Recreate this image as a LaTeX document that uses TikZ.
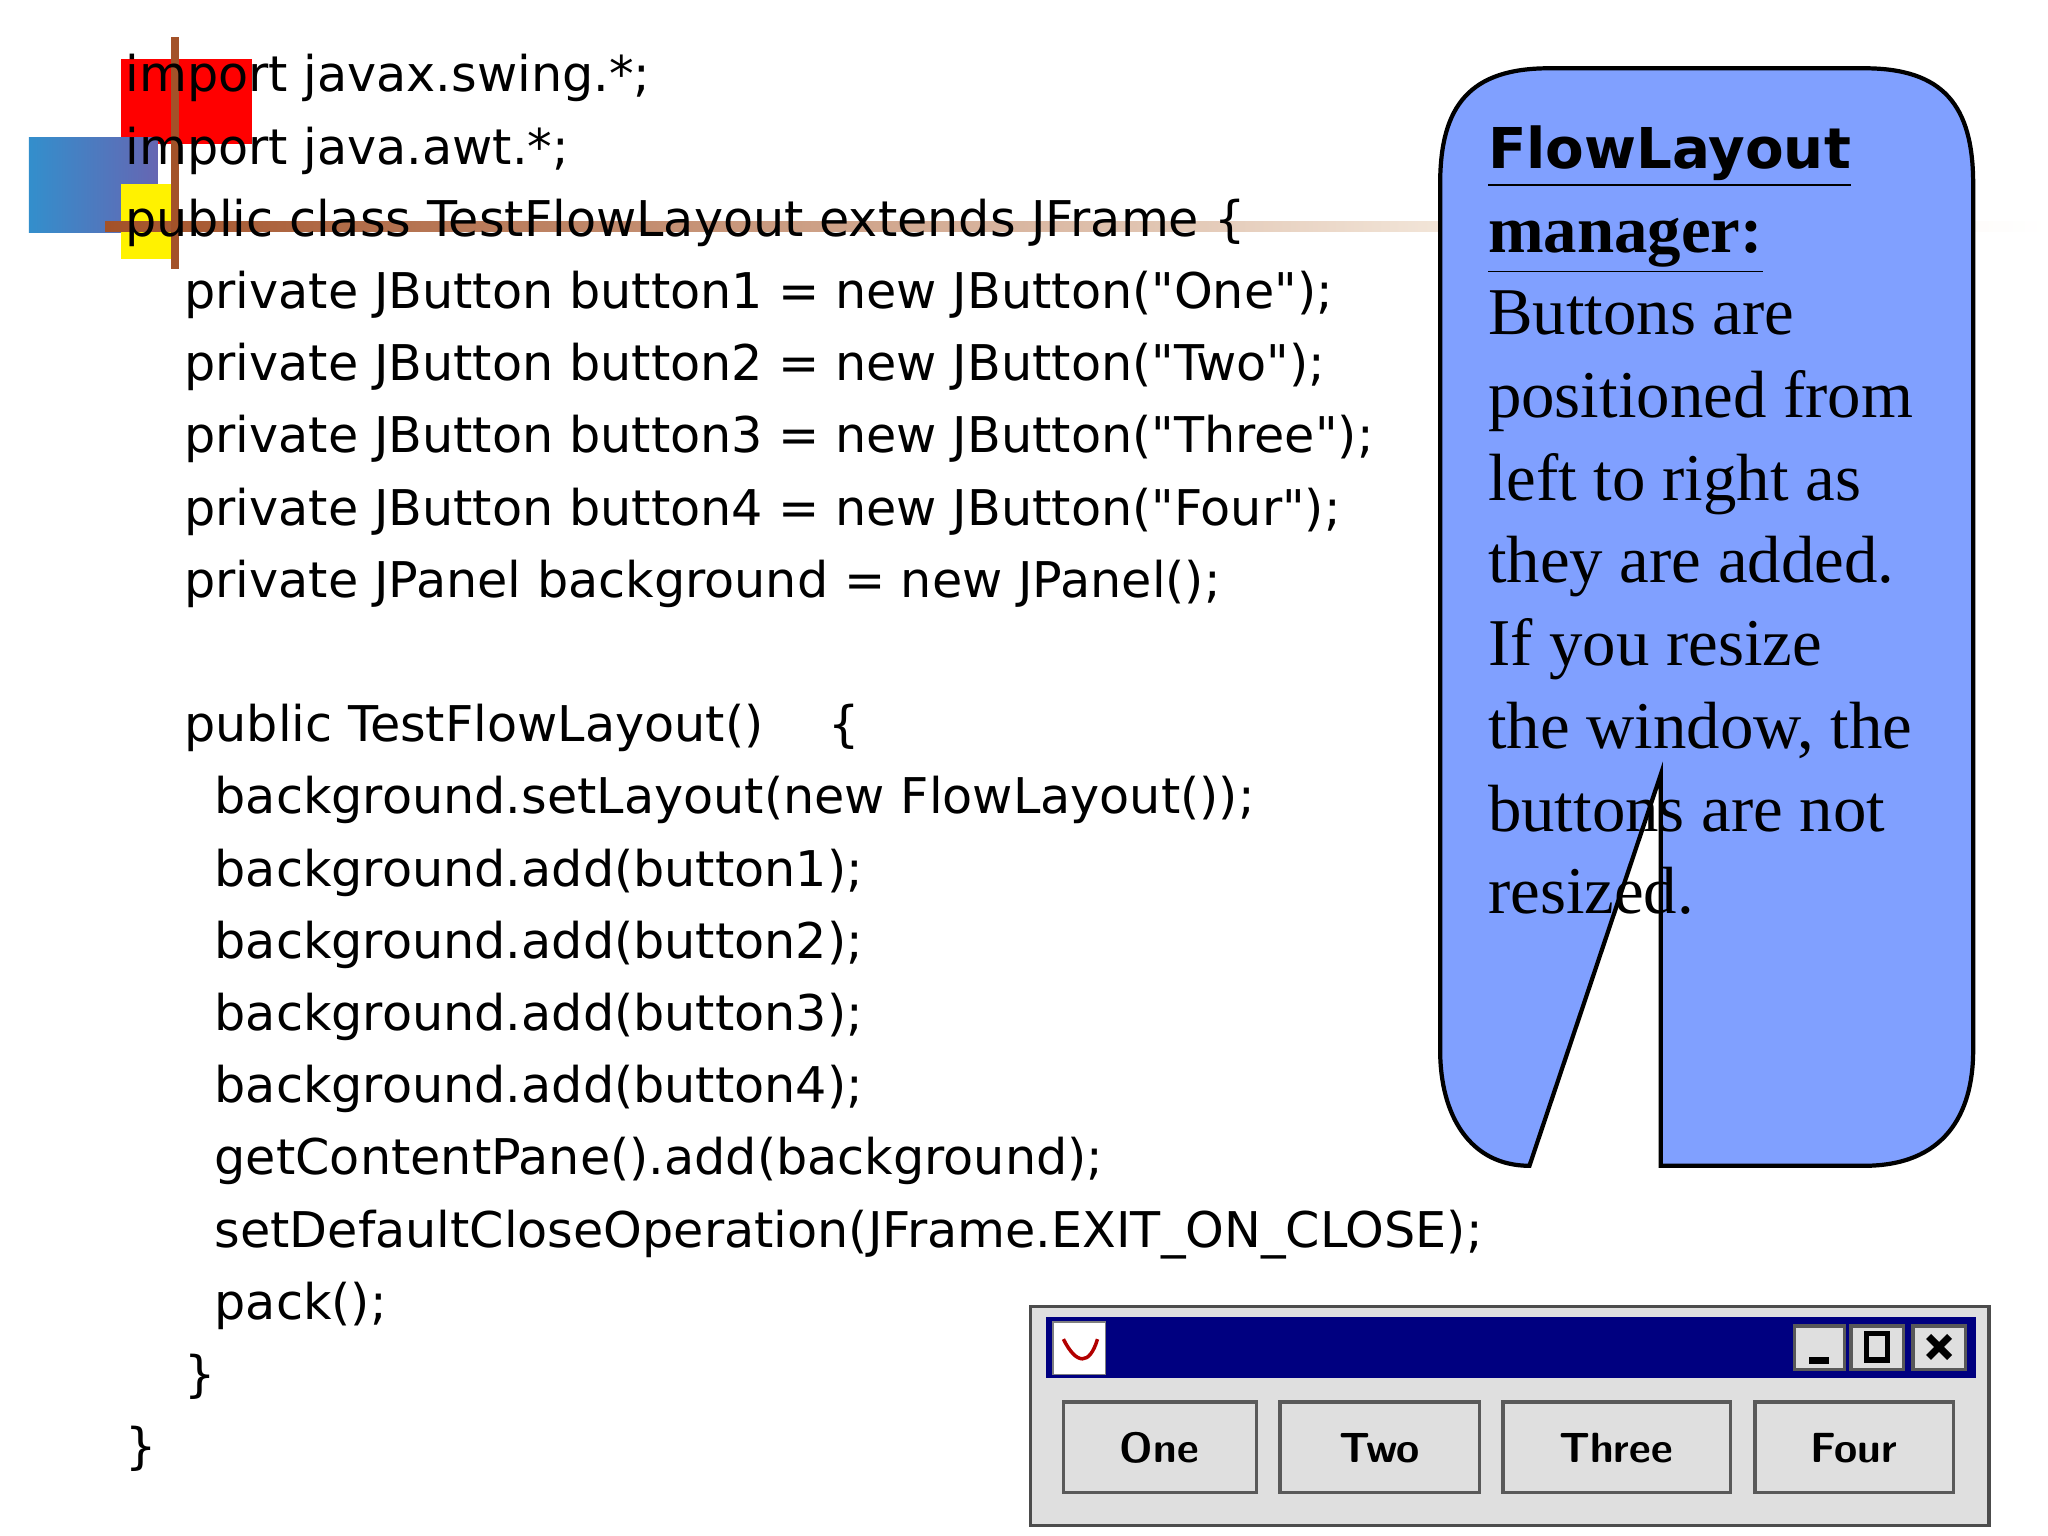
\documentclass[tikz,border=0pt]{standalone}
\usepackage{fontspec}
\setmainfont{Liberation Serif}
\newfontfamily\codefont{DejaVu Sans}
\newfontfamily\headfont{DejaVu Sans}
\definecolor{callblue}{HTML}{80A0FF}
\begin{document}
\begin{tikzpicture}[x=0.013128cm,y=-0.013128cm,
  code/.style={anchor=base west,inner sep=0pt,font=\codefont\fontsize{14}{17}\selectfont},
  call/.style={anchor=base west,inner sep=0pt,font=\fontsize{19}{23}\selectfont},
  btn/.style={draw=gray!70!black,fill=gray!25,line width=1pt},
  blab/.style={font=\sffamily\bfseries\fontsize{12}{14}\selectfont,inner sep=0pt}]
\useasboundingbox (0,0) rectangle (1560,1170);
% decoration
\fill[red] (92,45) rectangle (192,110);
\shade[left color=blue!40!cyan!60!gray, right color=blue!50!black!60] (22,105) rectangle (120,177);
\fill[yellow] (92,140) rectangle (133,197);
\shade[left color=brown!80!red!80!black, right color=brown!20] (80,169) rectangle (1100,176);
\shade[left color=brown!20, right color=white] (1100,169) rectangle (1560,176);
\fill[brown!80!red!80!black] (130,28) rectangle (136,205);
% code
\foreach \t [count=\i from 0] in {{import javax.swing.*;},{import java.awt.*;},{public class TestFlowLayout extends JFrame \{}}
  \node[code] (c\i) at (95,70+55*\i) {\t};
\node[code] (p1) at (140,235) {private JButton button1 = new JButton("One");};
\node[code] (p2) at (140,290) {private JButton button2 = new JButton("Two");};
\node[code] (p3) at (140,345) {private JButton button3 = new JButton("Three");};
\node[code] (p4) at (140,400) {private JButton button4 = new JButton("Four");};
\node[code] (p5) at (140,455) {private JPanel background = new JPanel();};
\node[code] (k0) at (140,565) {public TestFlowLayout()\quad\ \{};
\node[code] (k1) at (163,620) {background.setLayout(new FlowLayout());};
\node[code] (k2) at (163,675) {background.add(button1);};
\node[code] (k3) at (163,730) {background.add(button2);};
\node[code] (k4) at (163,785) {background.add(button3);};
\node[code] (k5) at (163,840) {background.add(button4);};
\node[code] (k6) at (163,895) {getContentPane().add(background);};
\node[code] (k7) at (163,950) {setDefaultCloseOperation(JFrame.EXIT\_ON\_CLOSE);};
\node[code] (k8) at (163,1005) {pack();};
\node[code] (k9) at (140,1060) {\}};
\node[code] (k10) at (95,1115) {\}};
% callout
\draw[fill=callblue, line width=1.2pt]
  (1265,888) -- (1265,590) -- (1165,888)
  .. controls (1120,888) and (1097,850) .. (1097,800) -- (1097,140)
  .. controls (1097,80) and (1120,52) .. (1180,52) -- (1420,52)
  .. controls (1480,52) and (1503,80) .. (1503,140) -- (1503,800)
  .. controls (1503,850) and (1480,888) .. (1420,888) -- cycle;
\node[anchor=base west,inner sep=0pt,font=\headfont\bfseries\fontsize{16}{20}\selectfont] (h1) at (1133,128) {\underline{FlowLayout}};
\node[call,font=\bfseries\fontsize{19}{23}\selectfont] (h2) at (1133,192) {\underline{manager:}};
\foreach \t [count=\i from 0] in {Buttons are,positioned from,left to right as,they are added.,If you resize,{the window, the},buttons are not,resized.}
  \node[call] (t\i) at (1133,255+63*\i) {\t};
% window
\draw[fill=gray!25,draw=black!70,line width=1pt] (785,995) rectangle (1515,1162);
\fill[blue!50!black] (797,1003) rectangle (1505,1050);
\draw[fill=white,draw=gray] (802,1007) rectangle (842,1047);
\draw[red!70!black,line width=1pt] (810,1020) .. controls (820,1040) and (830,1040) .. (836,1020);
\foreach \a/\b in {1367/1405,1410/1450,1457/1497}
  \draw[btn] (\a,1010) rectangle (\b,1043);
\draw[line width=2pt] (1378,1036) -- (1393,1036);
\draw[line width=1.5pt] (1422,1016) rectangle (1438,1036);
\draw[line width=2pt] (1469,1018) -- (1485,1034) (1469,1034) -- (1485,1018);
\draw[btn] (810,1068) rectangle (957,1137);
\draw[btn] (975,1068) rectangle (1127,1137);
\draw[btn] (1145,1068) rectangle (1318,1137);
\draw[btn] (1337,1068) rectangle (1488,1137);
\node[blab] (b1) at (883,1103) {One};
\node[blab] (b2) at (1051,1103) {Two};
\node[blab] (b3) at (1231,1103) {Three};
\node[blab] (b4) at (1412,1103) {Four};
\end{tikzpicture}
\end{document}
